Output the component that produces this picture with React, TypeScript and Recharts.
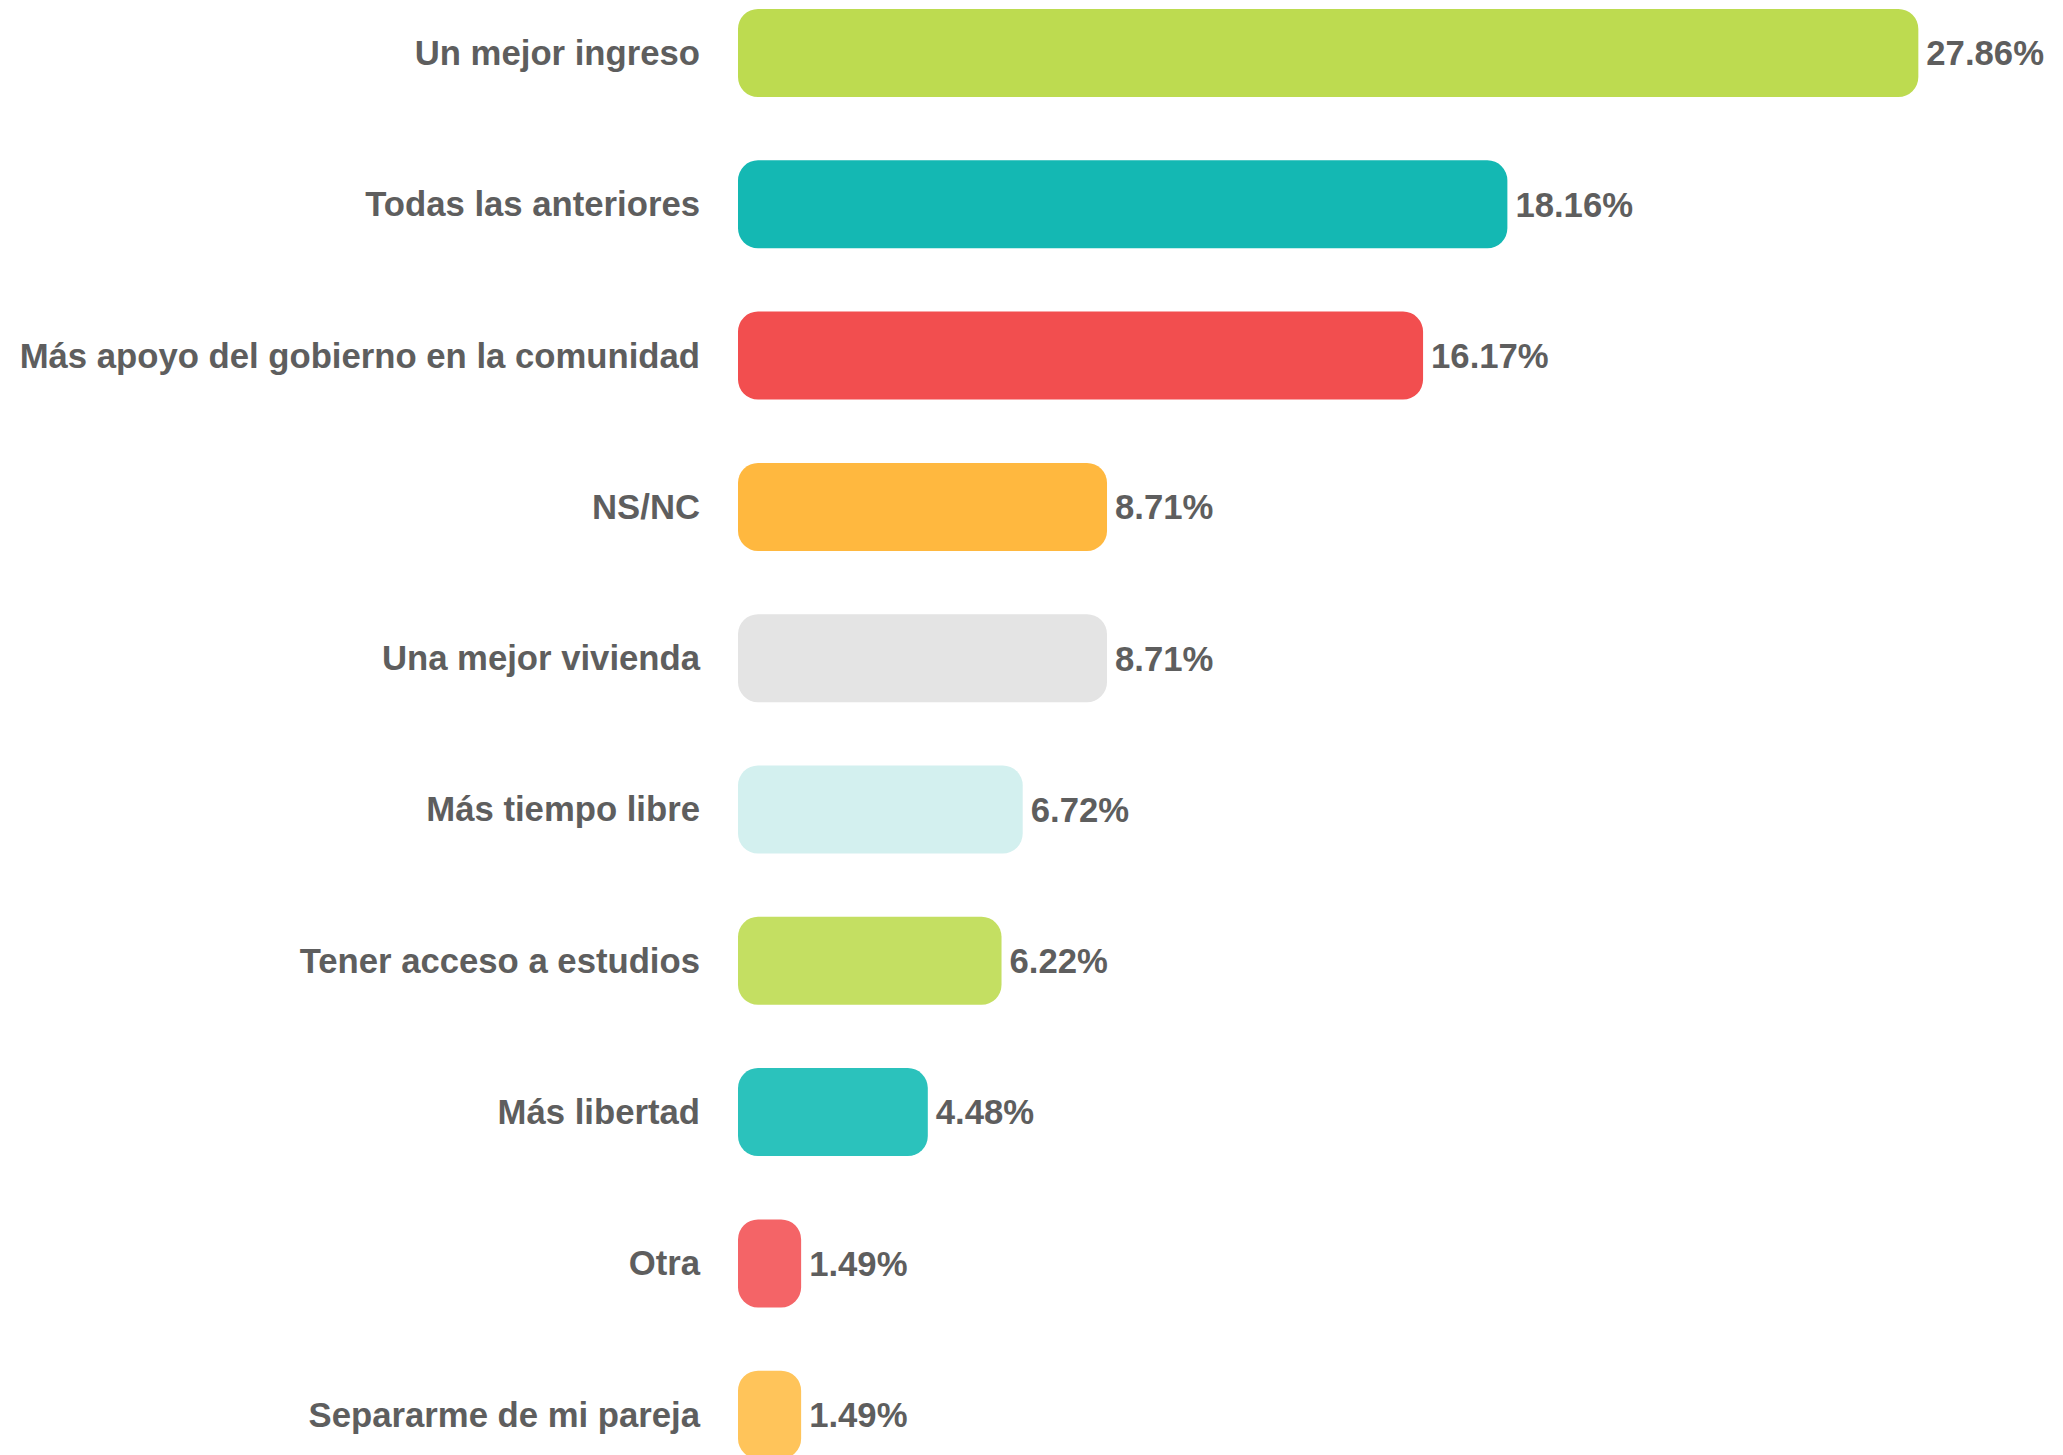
import { BarChart, Bar, XAxis, YAxis, Cell, LabelList } from "recharts";

// answer categories, top to bottom
const CATEGORIES = [
  "Un mejor ingreso",
  "Todas las anteriores",
  "Más apoyo del gobierno en la comunidad",
  "NS/NC",
  "Una mejor vivienda",
  "Más tiempo libre",
  "Tener acceso a estudios",
  "Más libertad",
  "Otra",
  "Separarme de mi pareja",
];

// share of answers, %
const VALUES = [27.86, 18.16, 16.17, 8.71, 8.71, 6.72, 6.22, 4.48, 1.49, 1.49];

const BAR_COLORS = [
  "#bddb50",
  "#14b8b3",
  "#f24e4f",
  "#ffb83f",
  "#e4e4e4",
  "#d3f0ef",
  "#c4df62",
  "#2bc2bc",
  "#f46467",
  "#ffc45a",
];

const TEXT = "#5e5e5e";
const FONT = "'Liberation Sans', Arial, Helvetica, sans-serif";

const data = CATEGORIES.map((name, i) => ({ name, value: VALUES[i] }));

export default function App() {
  return (
    <div
      style={{
        position: "absolute",
        top: 0,
        left: 0,
        width: 2063,
        height: 1455,
        overflow: "hidden",
        background: "#ffffff",
      }}
    >
      <div style={{ position: "absolute", top: -23, left: 0 }}>
        <BarChart
          width={2063}
          height={1513}
          data={data}
          layout="vertical"
          margin={{ top: 0, right: 54, bottom: 0, left: 0 }}
        >
          <XAxis type="number" domain={[0, 30]} hide />
          <YAxis
            type="category"
            dataKey="name"
            width={738}
            axisLine={false}
            tickLine={false}
            tickSize={0}
            tickMargin={38}
            interval={0}
            tick={{ fill: TEXT, fontSize: 34.7, fontWeight: 700, fontFamily: FONT }}
          />
          <Bar
            dataKey="value"
            barSize={88}
            radius={[20, 20, 20, 20]}
            isAnimationActive={false}
          >
            {data.map((d, i) => (
              <Cell key={d.name} fill={BAR_COLORS[i]} />
            ))}
            <LabelList
              dataKey="value"
              position="right"
              offset={8}
              formatter={(v: number) => `${v.toFixed(2)}%`}
              style={{ fill: TEXT, fontSize: 34.7, fontWeight: 700, fontFamily: FONT }}
            />
          </Bar>
        </BarChart>
      </div>
    </div>
  );
}
